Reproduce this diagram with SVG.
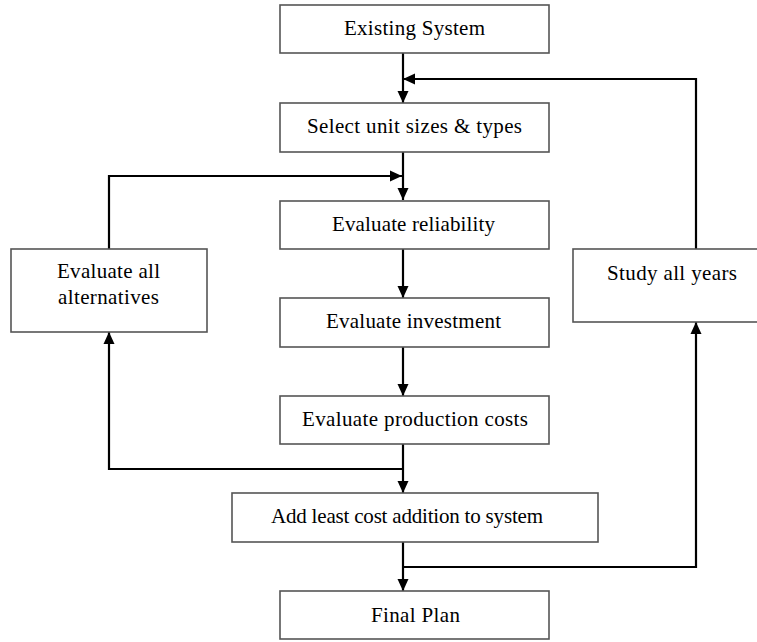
<svg xmlns="http://www.w3.org/2000/svg" width="757" height="642" viewBox="0 0 757 642">
  <style>
    .box { fill: #ffffff; stroke: #555555; stroke-width: 1.6; }
    .lbl { font-family: "Liberation Serif", "Times New Roman", serif; font-size: 21px; fill: #000000; text-anchor: middle; }
    .wire { fill: none; stroke: #000000; stroke-width: 2.2; }
  </style>
  <defs>
    <marker id="head" markerUnits="userSpaceOnUse" markerWidth="13" markerHeight="13" viewBox="0 0 13 13" refX="12" refY="6.5" orient="auto">
      <path d="M0,1 L12,6.5 L0,12 Z" fill="#000000"/>
    </marker>
  </defs>

  <rect width="757" height="642" fill="#ffffff"/>

  <!-- connectors -->
  <g id="connectors">
    <path class="wire" d="M403,53 V103" marker-end="url(#head)"/>
    <path class="wire" d="M696,249 V79 H403" marker-end="url(#head)"/>
    <path class="wire" d="M403,152 V200" marker-end="url(#head)"/>
    <path class="wire" d="M109,249 V176 H402" marker-end="url(#head)"/>
    <path class="wire" d="M403,249 V298" marker-end="url(#head)"/>
    <path class="wire" d="M403,347 V396" marker-end="url(#head)"/>
    <path class="wire" d="M403,444 V493" marker-end="url(#head)"/>
    <path class="wire" d="M403,469 H109 V332" marker-end="url(#head)"/>
    <path class="wire" d="M403,542 V591" marker-end="url(#head)"/>
    <path class="wire" d="M403,567 H696 V322" marker-end="url(#head)"/>
  </g>

  <g id="existing">
    <rect class="box" x="280" y="5" width="269" height="48"/>
    <text class="lbl" x="414.5" y="35" textLength="141" lengthAdjust="spacing">Existing System</text>
  </g>
  <g id="select">
    <rect class="box" x="280" y="103" width="269" height="49"/>
    <text class="lbl" x="414.5" y="133" textLength="215" lengthAdjust="spacing">Select unit sizes &amp; types</text>
  </g>
  <g id="reliability">
    <rect class="box" x="280" y="201" width="269" height="48"/>
    <text class="lbl" x="413.5" y="231" textLength="163" lengthAdjust="spacing">Evaluate reliability</text>
  </g>
  <g id="investment">
    <rect class="box" x="280" y="298" width="269" height="49"/>
    <text class="lbl" x="413.5" y="328" textLength="175" lengthAdjust="spacing">Evaluate investment</text>
  </g>
  <g id="production">
    <rect class="box" x="280" y="396" width="269" height="48"/>
    <text class="lbl" x="415" y="426" textLength="226" lengthAdjust="spacing">Evaluate production costs</text>
  </g>
  <g id="least-cost">
    <rect class="box" x="232" y="493" width="366" height="49"/>
    <text class="lbl" x="407" y="523" textLength="272" lengthAdjust="spacing">Add least cost addition to system</text>
  </g>
  <g id="final">
    <rect class="box" x="280" y="591" width="269" height="48"/>
    <text class="lbl" x="415.5" y="622" textLength="89" lengthAdjust="spacing">Final Plan</text>
  </g>
  <g id="alternatives">
    <rect class="box" x="11" y="249" width="196" height="83"/>
    <text class="lbl" x="108.5" y="278" textLength="103" lengthAdjust="spacing">Evaluate all</text>
    <text class="lbl" x="108.5" y="304" textLength="101" lengthAdjust="spacing">alternatives</text>
  </g>
  <g id="study">
    <rect class="box" x="573" y="249" width="200" height="73"/>
    <text class="lbl" x="672" y="280" textLength="130" lengthAdjust="spacing">Study all years</text>
  </g>
</svg>
